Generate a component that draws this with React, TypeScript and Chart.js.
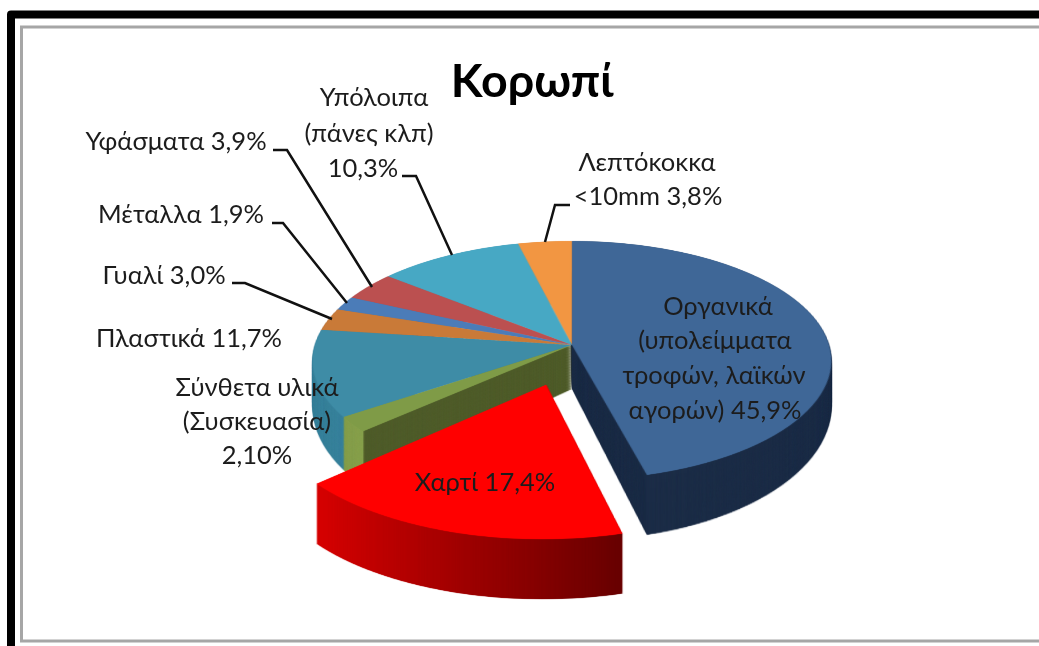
import React, { useEffect, useRef } from "react";
import { Chart, registerables } from "chart.js";

Chart.register(...registerables);

const categories = ["Οργανικά", "Χαρτί", "Σύνθετα υλικά", "Πλαστικά", "Γυαλί", "Μέταλλα", "Υφάσματα", "Υπόλοιπα", "Λεπτόκοκκα"];
const shares = [45.9, 17.4, 2.1, 11.7, 3.0, 1.9, 3.9, 10.3, 3.8];
const topColors = ["#3f6797", "#ff0000", "#7f9b47", "#3e8ca6", "#c97a38", "#4b7cb8", "#bb5050", "#47a8c4", "#f29642"];
const sideColors = ["#1c2d47", "#b00000", "#4f5c2a", "#38819b", "#8f5526", "#2f5688", "#853636", "#2f7a92", "#b56c2c"];
const explodeOffsets = [0, 260, 0, 0, 0, 0, 0, 0, 0];
const titleText = "Κορωπί";

const labelLines = [
  ["Οργανικά", "(υπολείμματα", "τροφών, λαϊκών", "αγορών) 45,9%"],
  ["Χαρτί 17,4%"],
  ["Σύνθετα υλικά", "(Συσκευασία)", "2,10%"],
  ["Πλαστικά 11,7%"],
  ["Γυαλί 3,0%"],
  ["Μέταλλα 1,9%"],
  ["Υφάσματα 3,9%"],
  ["Υπόλοιπα", "(πάνες κλπ)", "10,3%"],
  ["Λεπτόκοκκα", "<10mm 3,8%"],
];

// Layout only (page pixels)
const labelCentres = [
  { xs: [718, 715, 714, 715], ys: [307, 341, 376, 411] },
  { xs: [485], ys: [483] },
  { xs: [257, 257, 257], ys: [388, 422, 456] },
  { xs: [189], ys: [339] },
  { xs: [164], ys: [276] },
  { xs: [181], ys: [215] },
  { xs: [176], ys: [142] },
  { xs: [374, 369, 363], ys: [98, 134, 169] },
  { xs: [647, 648], ys: [163, 197] },
];
const leaders = [
  [[232, 283], [245, 283], [332, 319]],
  [[272, 223], [283, 223], [347, 303]],
  [[273, 150], [287, 150], [372, 287]],
  [[402, 176], [416, 176], [452, 255]],
  [[570, 205], [555, 205], [545, 242]],
];
const view = { cx: 572, cy: 345, a: 257, b: 117.5, k: 0.13, depth: 60, backDepth: 43.8, depthSlope: 0.124 };
const W = 1039;
const H = 646;
const SS = 2.5;

function makeCanvas(w: number, h: number) {
  const c = document.createElement("canvas");
  c.width = w;
  c.height = h;
  return c;
}

function project(src: HTMLCanvasElement, R: number) {
  const out = makeCanvas(W, H);
  const ctx = out.getContext("2d")!;
  ctx.imageSmoothingEnabled = true;
  ctx.imageSmoothingQuality = "high";
  const half = src.width / 2;
  const rs = R * SS;
  const unitHalf = half / rs;
  for (let row = 0; row < H; row++) {
    const y = row + 0.5 - view.cy;
    const q = view.b + view.k * y;
    if (q <= 0) continue;
    const v = y / q;
    if (Math.abs(v) > unitHalf - 0.02) continue;
    const den = 1 - view.k * v;
    const dv = view.b / (q * q);
    const sx = view.a / den;
    ctx.drawImage(src, 0, half + (v - dv / 2) * rs, src.width, dv * rs, view.cx - unitHalf * sx, row, 2 * unitHalf * sx, 1);
  }
  return out;
}

const pie3dPlugin = {
  id: "pie3d",
  beforeDraw(chart: any) {
    const ctx = chart.ctx;
    ctx.save();
    ctx.fillStyle = "#ffffff";
    ctx.fillRect(0, 0, W, H);
    ctx.strokeStyle = "#000000";
    ctx.lineWidth = 8;
    ctx.lineJoin = "round";
    ctx.strokeRect(11, 14.5, W + 40, H + 40);
    ctx.strokeStyle = "#a6a6a6";
    ctx.lineWidth = 3;
    ctx.lineJoin = "miter";
    ctx.strokeRect(21.5, 27, W + 40, 614);
    ctx.restore();
  },
  beforeDatasetsDraw(chart: any) {
    const arcs = chart.getDatasetMeta(0).data;
    const R = arcs[0].outerRadius;
    const ox = arcs[0].x;
    const size = Math.ceil(3.5 * R * SS);
    const half = size / 2;
    const isComposite = (i: number) => categories[i] === "Σύνθετα υλικά";

    const flat = (
      pick: (i: number) => boolean,
      fill: (i: number, c: CanvasRenderingContext2D) => any,
      walls: boolean,
    ) => {
      const c = makeCanvas(size, size);
      const cx = c.getContext("2d")!;
      cx.setTransform(SS, 0, 0, SS, half - ox * SS, half - arcs[0].y * SS);
      for (let i = arcs.length - 1; i >= 0; i--) {
        if (!pick(i)) continue;
        const arc = arcs[i];
        const el = Object.create(arc);
        Object.defineProperty(el, "options", {
          value: { ...arc.options, backgroundColor: fill(i, cx), borderWidth: 0 },
        });
        // Back slices only ever show their outer wall: keep their hidden cut faces out of the way.
        if (walls && i > 0 && !isComposite(i) && !(explodeOffsets[i] > 0)) {
          Object.defineProperty(el, "innerRadius", { value: R * 0.7 });
        }
        el.draw(cx);
        // The thin wedge vanishes towards the centre: back its cut wall there with a wider short copy.
        if (walls && isComposite(i)) {
          const extra = 0.35;
          const core = Object.create(arc);
          Object.defineProperties(core, {
            options: { value: { ...arc.options, backgroundColor: sideColors[i], borderWidth: 0 } },
            endAngle: { value: arc.endAngle + extra },
            circumference: { value: arc.circumference + extra },
            outerRadius: { value: R * 0.4 },
          });
          core.draw(cx);
        }
      }
      return project(c, R);
    };

    const top = (i: number) => topColors[i];
    const side = (i: number, c: CanvasRenderingContext2D) => {
      const arc = arcs[i];
      const uStart = Math.cos(arc.startAngle);
      const uEnd = Math.cos(arc.endAngle);
      if (explodeOffsets[i] > 0) {
        const g = c.createLinearGradient(ox + Math.min(uStart, uEnd) * R, 0, ox + Math.max(uStart, uEnd) * R, 0);
        g.addColorStop(0, "#d40000");
        g.addColorStop(1, "#680000");
        return g;
      }
      if (isComposite(i)) {
        const edge = 1 + Math.max(uStart, uEnd);
        const g = c.createLinearGradient(ox - R, 0, ox, 0);
        g.addColorStop(0, topColors[i]);
        g.addColorStop(edge, "#87a04c");
        g.addColorStop(edge, sideColors[i]);
        g.addColorStop(1, sideColors[i]);
        return g;
      }
      return sideColors[i];
    };

    const isExploded = (i: number) => explodeOffsets[i] > 0;
    const isFixed = (i: number) => !isExploded(i);
    const ctx = chart.ctx;

    // fixed slices: the wall is deeper towards the viewer
    const fixedSides = flat(isFixed, side, true);
    for (let d = view.depth; d >= 1; d--) {
      const t = d / view.depth;
      const s = 1 + view.depthSlope * t;
      ctx.drawImage(fixedSides, 0, view.cy - view.cy * s + view.backDepth * t, W, H * s);
    }
    ctx.drawImage(flat(isFixed, top, false), 0, 0);

    const explodedSides = flat(isExploded, side, true);
    for (let d = view.depth; d >= 1; d--) ctx.drawImage(explodedSides, 0, d);
    ctx.drawImage(flat(isExploded, top, false), 0, 0);
    return false;
  },
  afterDraw(chart: any) {
    const ctx = chart.ctx;
    ctx.save();
    ctx.strokeStyle = "#111111";
    ctx.lineWidth = 2.5;
    leaders.forEach((line) => {
      ctx.beginPath();
      line.forEach(([x, y], i) => (i ? ctx.lineTo(x, y) : ctx.moveTo(x, y)));
      ctx.stroke();
    });
    ctx.textAlign = "center";
    ctx.textBaseline = "middle";
    ctx.fillStyle = "#1c1c1c";
    ctx.font = '25.5px Lato, "Open Sans", sans-serif';
    labelLines.forEach((lines, i) => {
      lines.forEach((t, j) => ctx.fillText(t, labelCentres[i].xs[j], labelCentres[i].ys[j]));
    });
    ctx.fillStyle = "#000000";
    ctx.font = 'bold 46.5px Lato, "Open Sans", sans-serif';
    ctx.fillText(titleText, 532, 82);
    ctx.restore();
  },
};

export default function App() {
  const ref = useRef<HTMLCanvasElement>(null);
  useEffect(() => {
    document.body.style.margin = "0";
    const chart = new Chart(ref.current!, {
      type: "pie",
      data: {
        labels: categories,
        datasets: [{ data: shares, backgroundColor: topColors, offset: explodeOffsets, borderWidth: 0 }],
      },
      options: {
        responsive: false,
        animation: false,
        layout: { padding: 0 },
        plugins: { legend: { display: false }, tooltip: { enabled: false } },
      },
      plugins: [pie3dPlugin],
    } as any);
    return () => chart.destroy();
  }, []);
  return <canvas ref={ref} width={W} height={H} style={{ display: "block", filter: "blur(0.6px)" }} />;
}
